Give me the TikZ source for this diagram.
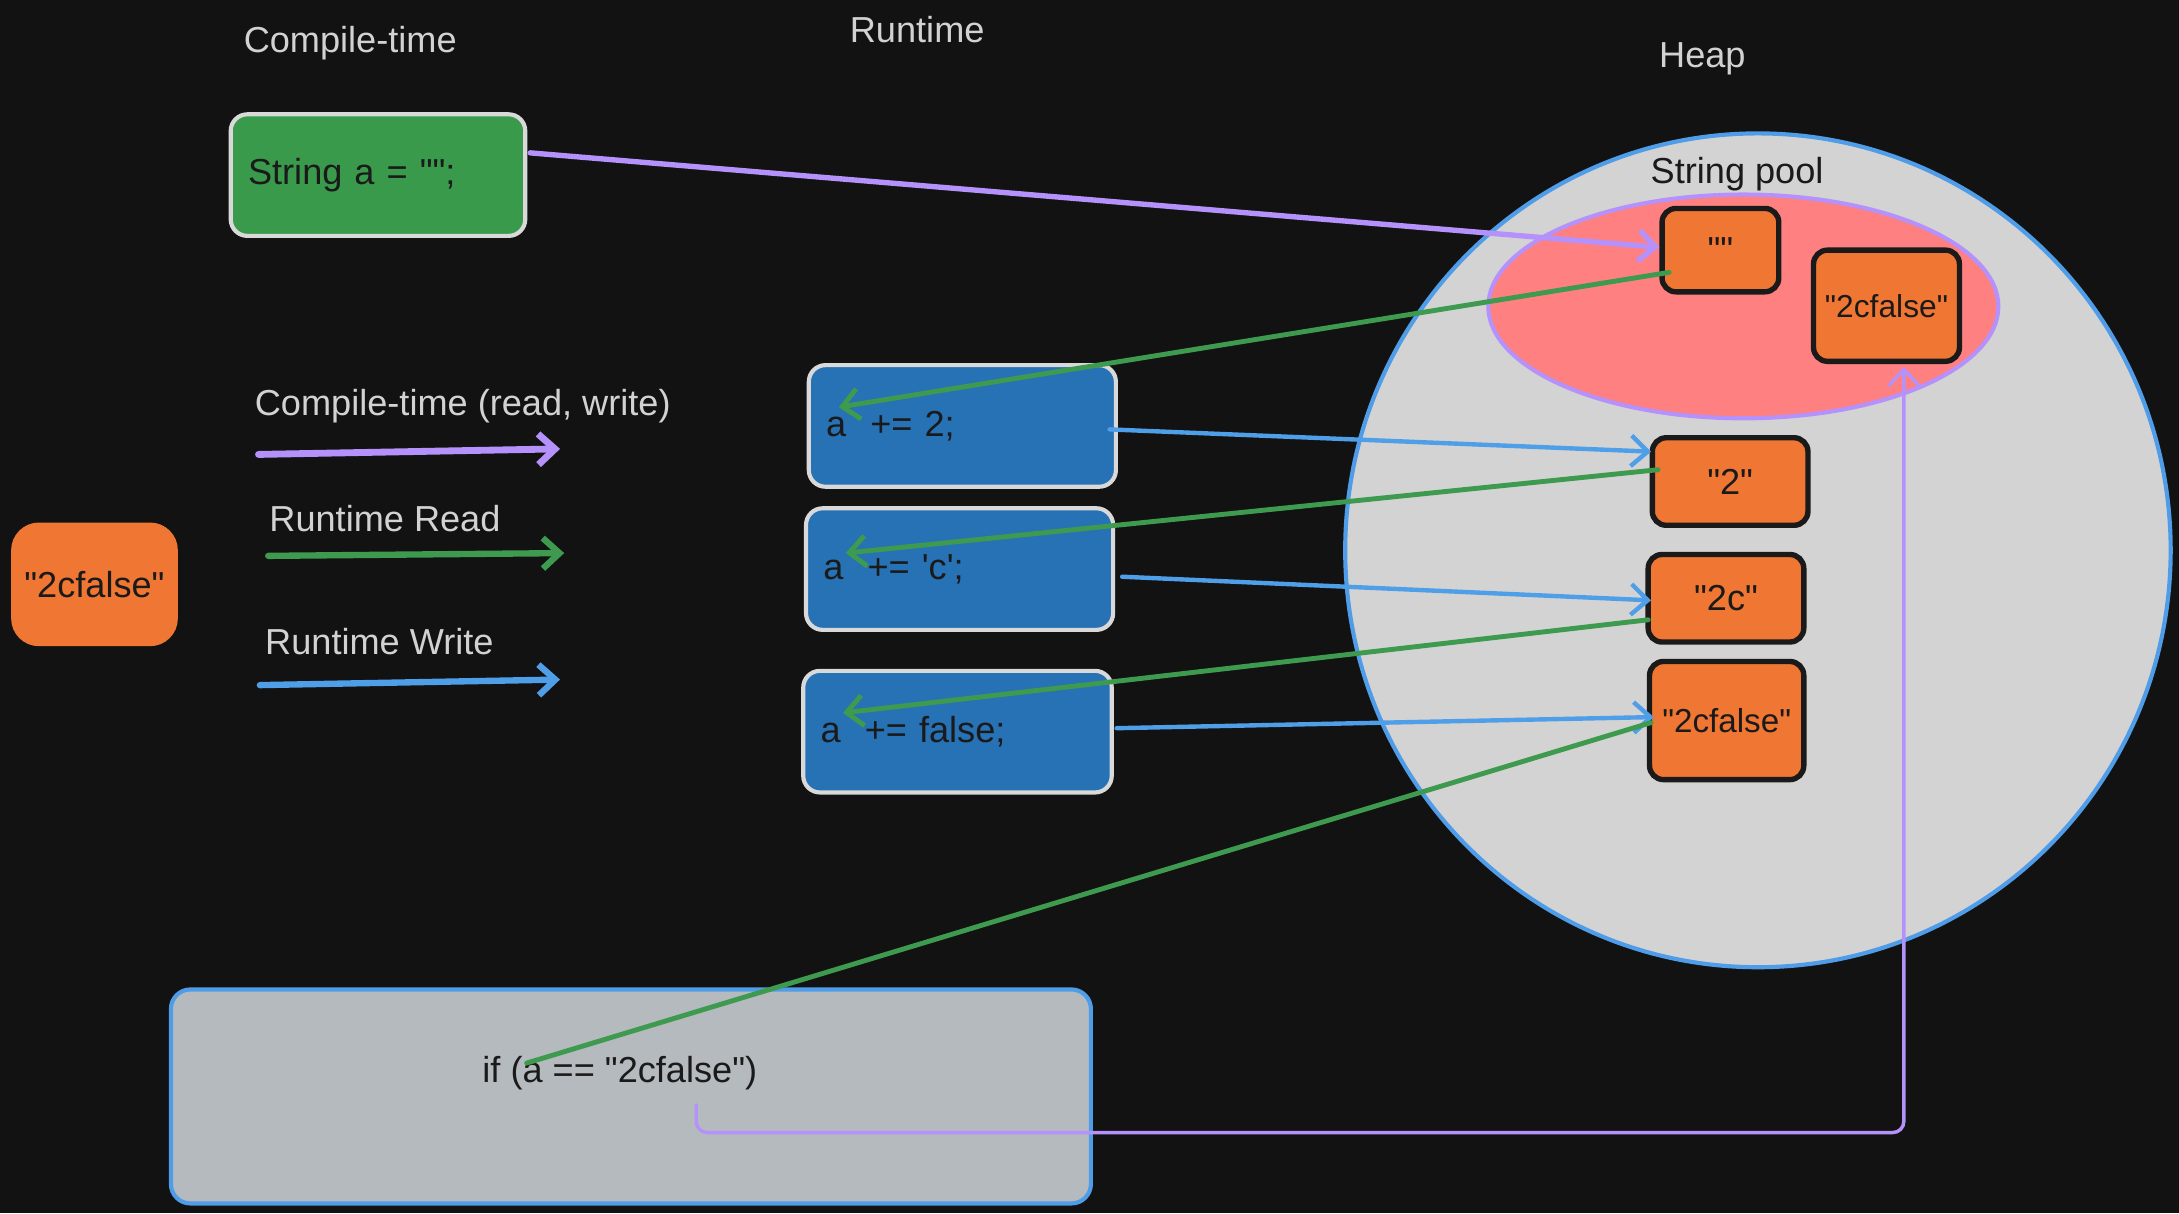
\documentclass[tikz,border=0pt]{standalone}
\usepackage{fontspec}
\setmainfont{Liberation Sans}[Ligatures=TeXOff]
\usetikzlibrary{arrows.meta,shapes.geometric}
\definecolor{bgdark}{HTML}{121212}
\definecolor{titletext}{HTML}{D2D2D2}
\definecolor{inkdark}{HTML}{1A1A1A}
\definecolor{boxline}{HTML}{D9D9D9}
\definecolor{initgreen}{HTML}{3A9A4B}
\definecolor{runblue}{HTML}{2771B5}
\definecolor{strorange}{HTML}{F07633}
\definecolor{heapgray}{HTML}{D3D3D3}
\definecolor{heapblue}{HTML}{4F9DE8}
\definecolor{poolpink}{HTML}{FF8080}
\definecolor{readgreen}{HTML}{3D9A4E}
\definecolor{writeblue}{HTML}{4E9EE8}
\definecolor{ctpurple}{HTML}{B592FB}
\definecolor{ifgray}{HTML}{B5BABE}
\begin{document}
\begin{tikzpicture}[x=0.2mm,y=-0.2mm,
  font=\fontsize{14.8}{18}\selectfont,
  title/.style={text=titletext},
  codebox/.style={draw=boxline,line width=1.7pt,rounded corners=2.4mm,text=inkdark,align=left,inner xsep=2.5mm,minimum height=17.5mm},
  strbox/.style={draw=inkdark,line width=2.2pt,fill=strorange,rounded corners=2mm,text=inkdark,inner sep=0pt},
  tip/.style={-{Straight Barb[length=2.4mm,width=4.4mm]}},
  ctline/.style={tip,color=ctpurple,line width=2.2pt,line cap=round},
  rdline/.style={tip,color=readgreen,line width=2pt,line cap=round},
  wrline/.style={tip,color=writeblue,line width=1.8pt,line cap=round}]

\useasboundingbox (0,0) rectangle (1568,873);
\fill[color=bgdark] (0,0) rectangle (1568,873);

\node (ttcompile) at (252,31) [title] {Compile-time};
\node (ttruntime) at (660,21) [title] {Runtime};
\node (ttheap) at (1225,42) [title] {Heap};

\node (strinit) at (272,126) [codebox,fill=initgreen,minimum width=42.4mm,text width=37.4mm] {String a = "";};

\node (lgct) at (333,292) [title] {Compile-time (read, write)};
\node (lgrd) at (277,373) [title] {Runtime Read};
\node (lgwr) at (273,462) [title] {Runtime Write};
\coordinate (ctfrom) at (186,327);
\coordinate (ctto) at (403,323);
\coordinate (rdfrom) at (193,400);
\coordinate (rdto) at (406,398);
\coordinate (wrfrom) at (187,493);
\coordinate (wrto) at (403,489);
\draw[ctline,line width=2.8pt] (ctfrom) -- (ctto);
\draw[rdline,line width=2.6pt] (rdfrom) -- (rdto);
\draw[wrline,line width=2.6pt] (wrfrom) -- (wrto);

\node (result) at (68,420.5) [fill=strorange,rounded corners=4mm,text=inkdark,minimum width=24mm,minimum height=17.8mm] {"2cfalse"};

\node (runtwo) at (692.5,306.5) [codebox,fill=runblue,minimum width=44.2mm,text width=39.2mm] {a~~+= 2;};
\node (runchar) at (690.5,409.5) [codebox,fill=runblue,minimum width=44.2mm,text width=39.2mm] {a~~+= 'c';};
\node (runbool) at (689,526.5) [codebox,fill=runblue,minimum width=44.4mm,text width=39.4mm] {a~~+= false;};

\node (heap) at (1265,396) [ellipse,draw=heapblue,fill=heapgray,line width=1.7pt,minimum width=118.8mm,minimum height=120mm] {};
\node (pooltitle) at (1250,125) [text=inkdark] {String pool};
\node (pool) at (1254.5,220.5) [ellipse,draw=ctpurple,fill=poolpink,line width=1.7pt,minimum width=73.4mm,minimum height=32.2mm] {};

\node (sempty) at (1238,180) [strbox,minimum width=16.8mm,minimum height=12mm] {""};
\node (spoolcf) at (1357.5,220) [strbox,minimum width=21mm,minimum height=16mm,font=\fontsize{13}{16}\selectfont] {"2cfalse"};
\node (stwo) at (1245,346.5) [strbox,minimum width=22.4mm,minimum height=12.6mm] {"2"};
\node (stwoc) at (1242,430.5) [strbox,minimum width=22.4mm,minimum height=12.6mm] {"2c"};
\node (stwocf) at (1242.5,518.5) [strbox,minimum width=22.2mm,minimum height=17mm,font=\fontsize{13.6}{16}\selectfont] {"2cfalse"};

\node (ifbox) at (454,789) [draw=heapblue,fill=ifgray,line width=1.7pt,rounded corners=2.8mm,minimum width=132.4mm,minimum height=30.8mm] {};
\node (ifcode) at (446,772) [text=inkdark] {if (a == "2cfalse")};

\draw[ctline] ([shift={(2,-16)}]strinit.east) -- ([shift={(0,-2)}]sempty.west);
\draw[rdline] ([shift={(7,16)}]sempty.west) -- ([shift={(23,-13.5)}]runtwo.west);
\draw[wrline] ([shift={(-6,2.5)}]runtwo.east) -- ([shift={(1,-21.5)}]stwo.west);
\draw[rdline] ([shift={(6,-8.5)}]stwo.west) -- ([shift={(30,-11.5)}]runchar.west);
\draw[wrline] ([shift={(5,5.5)}]runchar.east) -- ([shift={(4,1.5)}]stwoc.west);
\draw[rdline] ([shift={(2,15.5)}]stwoc.west) -- ([shift={(30,-13.5)}]runbool.west);
\draw[wrline] ([shift={(2,-2.5)}]runbool.east) -- ([shift={(5,-2.5)}]stwocf.west);
\draw[rdline,-] ([shift={(3,1.5)}]stwocf.west) -- ([shift={(38,-7)}]ifcode.west);
\draw[ctline,line width=1.4pt,rounded corners=1.6mm] ([shift={(55,23)}]ifcode.center) -- ++(0,20) -| ([shift={(12.5,2)}]spoolcf.south);

\end{tikzpicture}
\end{document}
